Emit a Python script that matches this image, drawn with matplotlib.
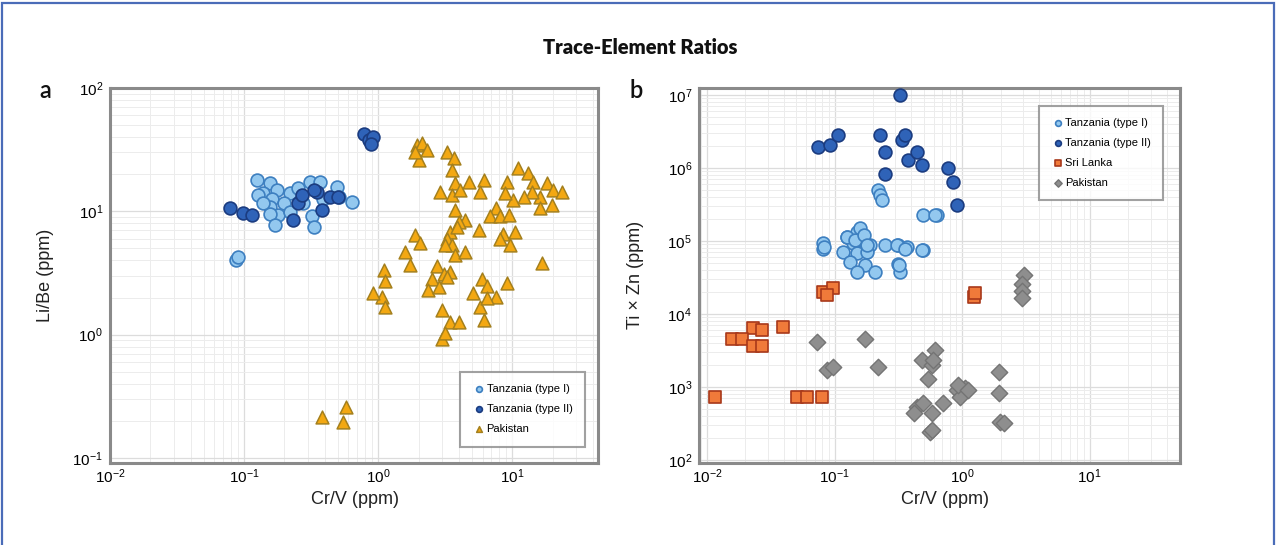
import matplotlib
matplotlib.use("Agg")
import matplotlib.pyplot as plt
from matplotlib.patches import Rectangle
from matplotlib.ticker import LogLocator, FixedLocator, NullFormatter

# ---------------- Panel a data (Cr/V vs Li/Be, ppm) ----------------
a_tz1_x = [0.124, 0.156, 0.139, 0.175, 0.128, 0.161, 0.22, 0.254, 0.311, 0.369,
           0.492, 0.636, 0.156, 0.197, 0.18, 0.156, 0.17, 0.32, 0.33, 0.277,
           0.22, 0.139, 0.506, 0.39, 0.087, 0.09]
a_tz1_y = [18.0, 16.9, 14.0, 14.9, 13.6, 12.7, 14.0, 15.4, 17.4, 17.4,
           15.8, 12.0, 10.9, 11.6, 9.3, 9.6, 7.7, 9.1, 7.5, 11.6,
           9.9, 11.6, 13.1, 12.7, 4.0, 4.3]

a_tz2_x = [0.78, 0.85, 0.92, 0.88, 0.079, 0.098, 0.115, 0.253, 0.23, 0.35,
           0.38, 0.44, 0.50, 0.33, 0.27]
a_tz2_y = [42.0, 38.0, 40.0, 35.0, 10.6, 9.7, 9.3, 11.7, 8.5, 14.4,
           10.2, 13.1, 13.1, 14.9, 13.5]

a_pk_x = [1.94, 2.12, 2.31, 2.0, 1.89, 3.25, 3.65, 3.55, 3.76, 2.90,
          3.55, 4.09, 4.72, 6.11, 5.77, 3.76, 4.46, 3.98, 3.45, 3.87,
          5.61, 11.1, 13.2, 9.1, 14.4, 18.2, 20.3, 23.5, 16.2, 14.0,
          12.2, 10.2, 8.9, 16.2, 19.8, 7.5, 6.85, 8.1, 9.4, 8.6,
          10.5, 9.7, 8.1, 1.89, 2.06, 1.59, 1.73, 3.25, 3.55, 3.16,
          3.76, 4.46, 2.74, 3.08, 3.45, 2.51, 2.37, 2.82, 3.25, 16.6,
          5.94, 6.5, 5.14, 9.1, 7.5, 5.77, 6.5, 6.11, 3.0, 3.45,
          3.98, 3.0, 3.16, 1.10, 1.13, 1.06, 1.13, 0.92, 0.38, 0.58,
          0.55]
a_pk_y = [34.5, 35.6, 31.4, 26.1, 30.5, 30.5, 26.9, 21.6, 16.9, 14.4,
          13.6, 14.9, 17.4, 17.9, 14.4, 10.3, 8.5, 8.2, 6.8, 7.5,
          7.1, 22.3, 20.3, 17.4, 17.4, 16.9, 14.9, 14.4, 13.1, 14.4,
          13.1, 12.4, 14.0, 10.6, 11.2, 10.6, 9.1, 9.1, 9.3, 6.6,
          6.8, 5.3, 6.0, 6.4, 5.5, 4.7, 3.7, 6.0, 5.3, 5.3,
          4.4, 4.7, 3.6, 3.1, 3.2, 2.8, 2.3, 2.45, 2.95, 3.8,
          2.8, 2.5, 2.16, 2.6, 2.03, 1.69, 1.97, 1.32, 1.58, 1.27,
          1.27, 0.93, 1.03, 3.35, 2.7, 2.03, 1.69, 2.17, 0.216, 0.26,
          0.197]

# ---------------- Panel b data (Cr/V vs Ti x Zn, ppm) ----------------
b_tz1_x = [0.22, 0.227, 0.234, 0.497, 0.632, 0.0817, 0.0817, 0.124, 0.149, 0.168,
           0.140, 0.19, 0.117, 0.149, 0.179, 0.249, 0.316, 0.368, 0.497, 0.158,
           0.132, 0.173, 0.207, 0.316, 0.326, 0.149, 0.125, 0.145, 0.169, 0.179,
           0.308, 0.357, 0.483, 0.317, 0.615, 0.082]
b_tz1_y = [5.0e5, 4.3e5, 3.6e5, 2.27e5, 2.27e5, 9.3e4, 7.9e4, 1.15e5, 1.34e5, 1.03e5,
           9.3e4, 8.8e4, 7.1e4, 6.8e4, 7.1e4, 8.8e4, 8.8e4, 8.4e4, 7.5e4, 1.49e5,
           5.2e4, 4.7e4, 3.8e4, 4.9e4, 3.8e4, 3.8e4, 1.15e5, 1.03e5, 1.21e5, 8.8e4,
           8.8e4, 7.9e4, 7.5e4, 4.7e4, 2.28e5, 8.4e4]

b_tz2_x = [0.326, 0.0746, 0.092, 0.107, 0.227, 0.249, 0.336, 0.357, 0.379, 0.441,
           0.482, 0.249, 0.78, 0.85, 0.91]
b_tz2_y = [9.9e6, 1.96e6, 2.07e6, 2.83e6, 2.83e6, 1.67e6, 2.42e6, 2.83e6, 1.29e6, 1.67e6,
           1.1e6, 8.4e5, 1.0e6, 6.5e5, 3.1e5]

b_sl_x = [0.0817, 0.098, 0.0867, 0.0231, 0.0268, 0.0156, 0.0187, 0.0231, 0.0268, 0.0396,
          0.0115, 0.0504, 0.0604, 0.0792, 1.23, 1.25]
b_sl_y = [2.02e4, 2.25e4, 1.82e4, 6.4e3, 6.0e3, 4.6e3, 4.6e3, 3.6e3, 3.6e3, 6.7e3,
          7.4e2, 7.4e2, 7.4e2, 7.4e2, 1.73e4, 1.95e4]

b_pk_x = [0.0724, 0.173, 0.22, 0.0867, 0.098, 0.482, 0.614, 0.578, 0.544, 0.596,
          0.441, 0.497, 0.578, 0.713, 0.561, 0.42, 0.579, 0.91, 1.06, 0.966,
          0.935, 1.12, 1.93, 1.93, 1.99, 2.11, 3.03, 2.94, 2.94, 2.94]
b_pk_y = [4.2e3, 4.6e3, 1.9e3, 1.7e3, 1.9e3, 2.34e3, 3.2e3, 2.0e3, 1.3e3, 2.34e3,
          5.4e2, 6.0e2, 4.4e2, 6.0e2, 2.4e2, 4.4e2, 2.6e2, 9.1e2, 9.6e2, 7.4e2,
          1.07e3, 9.1e2, 1.62e3, 8.2e2, 3.35e2, 3.2e2, 3.4e4, 2.6e4, 2.1e4, 1.64e4]

# axis limits / ticks
a_xlim = (0.01, 43.6)
a_ylim = (0.091, 100)
a_xticks = [0.01, 0.1, 1, 10]
a_yticks = [0.1, 1, 10, 100]
b_xlim = (0.00865, 51)
b_ylim = (91, 1.25e7)
b_xticks = [0.01, 0.1, 1, 10]
b_yticks = [1e2, 1e3, 1e4, 1e5, 1e6, 1e7]

W, H = 1277, 545
fig = plt.figure(figsize=(W / 100, H / 100), dpi=100)
fig.patch.set_facecolor("white")

tick_font = ["Liberation Sans", "DejaVu Sans"]

def style_axes(ax, xlim, ylim, xticks, yticks):
    ax.set_xscale("log")
    ax.set_yscale("log")
    ax.set_xlim(*xlim)
    ax.set_ylim(*ylim)
    ax.xaxis.set_major_locator(FixedLocator(xticks))
    ax.yaxis.set_major_locator(FixedLocator(yticks))
    ax.xaxis.set_minor_locator(LogLocator(base=10, subs=range(2, 10), numticks=20))
    ax.yaxis.set_minor_locator(LogLocator(base=10, subs=range(2, 10), numticks=20))
    ax.xaxis.set_minor_formatter(NullFormatter())
    ax.yaxis.set_minor_formatter(NullFormatter())
    ax.grid(True, which="major", color="#dcdcdc", linewidth=0.9)
    ax.grid(True, which="minor", color="#ececec", linewidth=0.7)
    ax.set_axisbelow(True)
    ax.tick_params(which="both", length=0, labelsize=11)
    ax.tick_params(axis="x", pad=3)
    ax.tick_params(axis="y", pad=5)
    for lab in ax.get_xticklabels() + ax.get_yticklabels():
        lab.set_fontfamily(tick_font)
    for sp in ax.spines.values():
        sp.set_color("#8a8a8a")
        sp.set_linewidth(2.2)

# Panel a
axa = fig.add_axes([110 / W, 1 - 463 / H, 488 / W, 375 / H])
style_axes(axa, a_xlim, a_ylim, a_xticks, a_yticks)
axa.scatter(a_tz1_x, a_tz1_y, s=85, marker="o", facecolor="#93c8ef",
            edgecolor="#3d7fc0", linewidth=1.2, label="Tanzania (type I)", zorder=3)
axa.scatter(a_tz2_x, a_tz2_y, s=85, marker="o", facecolor="#2f63b8",
            edgecolor="#1b3c80", linewidth=1.2, label="Tanzania (type II)", zorder=4)
axa.scatter(a_pk_x, a_pk_y, s=85, marker="^", facecolor="#f3a812",
            edgecolor="#a4801e", linewidth=1.1, label="Pakistan", zorder=3)
lga = axa.legend(loc="lower right", bbox_to_anchor=(0.984, 0.029),
                 markerscale=0.45, frameon=True, fancybox=False, borderpad=1.1,
                 labelspacing=0.9, handletextpad=0.1, handlelength=1.2,
                 prop={"family": tick_font, "size": 8})
lga.get_frame().set_edgecolor("#8a8a8a")
lga.get_frame().set_linewidth(1.5)

# Panel b
axb = fig.add_axes([699 / W, 1 - 463 / H, 481 / W, 375 / H])
style_axes(axb, b_xlim, b_ylim, b_xticks, b_yticks)
axb.scatter(b_tz1_x, b_tz1_y, s=85, marker="o", facecolor="#93c8ef",
            edgecolor="#3d7fc0", linewidth=1.2, label="Tanzania (type I)", zorder=3)
axb.scatter(b_tz2_x, b_tz2_y, s=85, marker="o", facecolor="#2f63b8",
            edgecolor="#1b3c80", linewidth=1.2, label="Tanzania (type II)", zorder=4)
axb.scatter(b_sl_x, b_sl_y, s=72, marker="s", facecolor="#f07a3a",
            edgecolor="#a8381a", linewidth=1.2, label="Sri Lanka", zorder=3)
axb.scatter(b_pk_x, b_pk_y, s=70, marker="D", facecolor="#8e8e8e",
            edgecolor="#747474", linewidth=1.0, label="Pakistan", zorder=3)
lgb = axb.legend(loc="upper right", bbox_to_anchor=(0.977, 0.968),
                 markerscale=0.45, frameon=True, fancybox=False, borderpad=1.1,
                 labelspacing=0.9, handletextpad=0.1, handlelength=1.2,
                 prop={"family": tick_font, "size": 8})
lgb.get_frame().set_edgecolor("#8a8a8a")
lgb.get_frame().set_linewidth(1.5)

# Texts
fig.text(640 / W, 1 - 48 / H, "Trace-Element Ratios", ha="center", va="center",
         fontsize=14.5, fontweight="heavy", family=["Lato", "DejaVu Sans"], color="#111111")
fig.text(45 / W, 1 - 90 / H, "a", ha="center", va="center", fontsize=17,
         fontweight="semibold", family=["Lato", "DejaVu Sans"], color="#111111")
fig.text(636 / W, 1 - 90 / H, "b", ha="center", va="center", fontsize=17,
         fontweight="semibold", family=["Lato", "DejaVu Sans"], color="#111111")
fig.text(45 / W, 1 - 275 / H, "Li/Be (ppm)", ha="center", va="center", rotation=90,
         fontsize=13, family=tick_font, color="#222222")
fig.text(355 / W, 1 - 500 / H, "Cr/V (ppm)", ha="center", va="center",
         fontsize=13, family=tick_font, color="#222222")
fig.text(636 / W, 1 - 275 / H, "Ti × Zn (ppm)", ha="center", va="center", rotation=90,
         fontsize=13, family=tick_font, color="#222222")
fig.text(945 / W, 1 - 500 / H, "Cr/V (ppm)", ha="center", va="center",
         fontsize=13, family=tick_font, color="#222222")

# Outer blue frame
fig.patches.append(Rectangle((2 / W, -0.02), 1 - 5 / W, 1.02 - 3 / H,
                             transform=fig.transFigure, fill=False,
                             edgecolor="#4a6cb8", linewidth=1.6))

fig.savefig("out.png", dpi=100)
